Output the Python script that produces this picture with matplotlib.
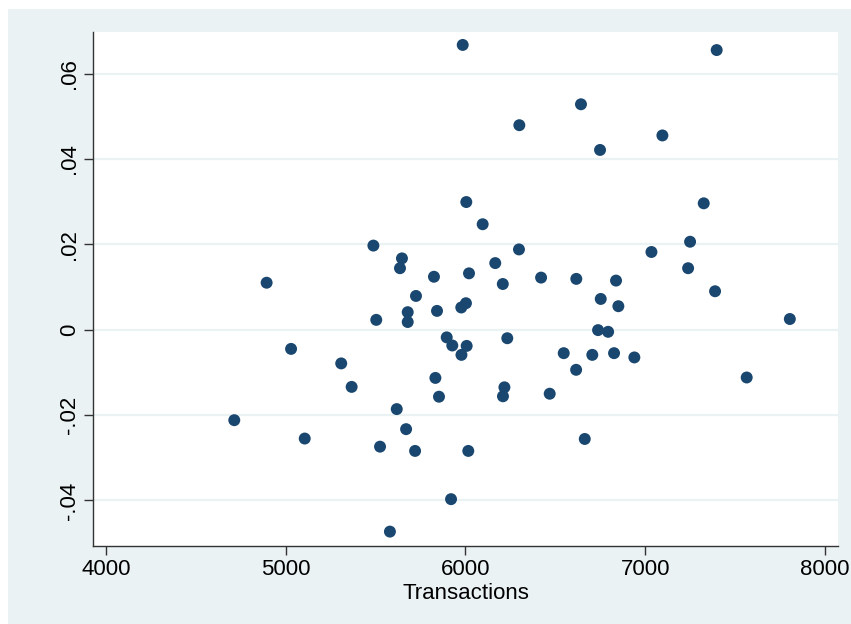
import matplotlib
matplotlib.use("Agg")
import matplotlib.pyplot as plt
from matplotlib.patches import Rectangle

transactions = [5985, 7398, 6643, 6300, 7096, 6749, 6005, 7326, 6096, 5488,
                6298, 7250, 7035, 5647, 5636, 4894, 6166, 6421, 6617, 7239,
                5825, 6020, 6208, 6838, 5725, 6753, 7389, 6003, 5977, 5842,
                5679, 6851, 5504, 5679, 7805, 6738, 6794, 5030, 5896, 6233,
                5927, 6007, 5978, 6547, 6706, 6827, 6940, 5309, 6616, 5833,
                7565, 5367, 6217, 6469, 5853, 6209, 5618, 4714, 5670, 5106,
                6664, 5525, 5720, 6016, 5920, 5580]
residuals = [0.0667, 0.0655, 0.0528, 0.0479, 0.0455, 0.0421, 0.0299, 0.0296, 0.0247, 0.0197,
             0.0188, 0.0206, 0.0182, 0.0167, 0.0144, 0.0110, 0.0156, 0.0122, 0.0119, 0.0144,
             0.0124, 0.0132, 0.0107, 0.0115, 0.0079, 0.0072, 0.0090, 0.0062, 0.0052, 0.0044,
             0.0041, 0.0055, 0.0023, 0.0018, 0.0025, -0.0001, -0.0005, -0.0045, -0.0018, -0.0020,
             -0.0037, -0.0038, -0.0059, -0.0055, -0.0059, -0.0055, -0.0065, -0.0079, -0.0094, -0.0113,
             -0.0112, -0.0134, -0.0135, -0.0150, -0.0157, -0.0156, -0.0186, -0.0212, -0.0233, -0.0255,
             -0.0256, -0.0274, -0.0284, -0.0284, -0.0397, -0.0473]

xticks = [4000, 5000, 6000, 7000, 8000]
yticks = [-0.04, -0.02, 0, 0.02, 0.04, 0.06]
ytick_labels = ["-.04", "-.02", "0", ".02", ".04", ".06"]

plt.rcParams['font.family'] = ['Liberation Sans', 'DejaVu Sans']

bg = "#EAF2F3"
fig = plt.figure(figsize=(8.51, 6.24), dpi=100, facecolor="white")
fig.add_artist(Rectangle((8/851, 0), 1, (624-9)/624, transform=fig.transFigure,
                         facecolor=bg, edgecolor="none", linewidth=0, zorder=-10))
ax = fig.add_axes([93/851, 1 - 545.7/624, (838-93)/851, (545.7-31.7)/624])
ax.set_zorder(1)
ax.set_facecolor("white")

ax.scatter(transactions, residuals, s=74, color="#1A476F", edgecolor="none", zorder=3)

ax.set_xlim(3928, 8073)
ax.set_ylim(-0.0506, 0.0698)
ax.set_xticks(xticks)
ax.set_xticklabels([str(t) for t in xticks])
ax.set_yticks(yticks)
ax.set_yticklabels(ytick_labels, rotation=90, va="center")

ax.grid(axis="y", color=bg, linewidth=1.6, zorder=0)
ax.set_axisbelow(True)

for side in ["top", "right"]:
    ax.spines[side].set_visible(False)
for side in ["left", "bottom"]:
    ax.spines[side].set_color("#333333")
    ax.spines[side].set_linewidth(1.0)

ax.tick_params(axis="both", direction="out", length=6.5, width=1, color="#333333",
               labelsize=16, labelcolor="black", pad=3)
ax.set_xlabel("Transactions", fontsize=16, labelpad=2.5)

fig.savefig("out.png", dpi=100, facecolor=fig.get_facecolor())
